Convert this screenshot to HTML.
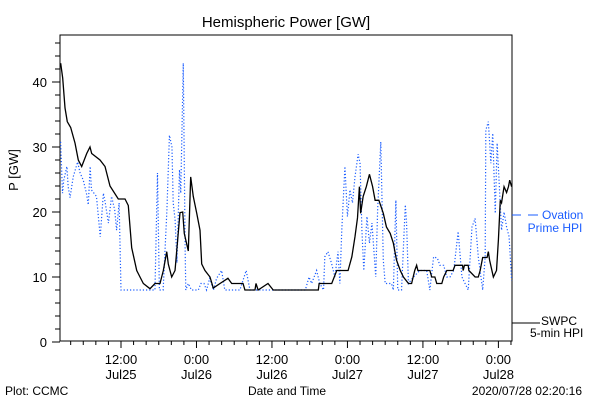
<!DOCTYPE html>
<html><head><meta charset="utf-8"><style>
body{margin:0;background:#fff}
svg{display:block;font-family:"Liberation Sans",sans-serif}
</style></head><body>
<svg id="c" width="600" height="400">
<text x="286" y="27" font-size="15" text-anchor="middle">Hemispheric Power [GW]</text>
<text transform="translate(18,170) rotate(-90)" font-size="13" text-anchor="middle">P [GW]</text>
<text x="5" y="395" font-size="12">Plot: CCMC</text>
<text x="287" y="395" font-size="12" text-anchor="middle">Date and Time</text>
<text x="582" y="395" font-size="12" text-anchor="end">2020/07/28 02:20:16</text>
<g id="axes"></g><g id="series"></g>
<line x1="512" y1="215" x2="521" y2="215" stroke="#1a5cff"/>
<line x1="528" y1="215" x2="538" y2="215" stroke="#1a5cff"/>
<text x="542" y="219" font-size="12" fill="#1a5cff">Ovation</text>
<text x="555" y="232" font-size="12" fill="#1a5cff" text-anchor="middle">Prime HPI</text>
<line x1="512" y1="323" x2="540" y2="323" stroke="#000"/>
<text x="541" y="325" font-size="12">SWPC</text>
<text x="530" y="337" font-size="12">5-min HPI</text>
</svg>
<script>
// time in hours from Jul25 00:00
const swpcT=[2.41,2.73,3.10,3.46,4.0,4.69,5.21,5.75,6.55,7.07,7.34,8.66,9.46,10.25,11.57,12.64,13.16,13.70,14.5,15.02,15.55,16.61,17.4,18.2,18.73,19.27,19.52,20.06,20.59,21.38,21.81,22.06,22.7,23.08,23.49,24.04,24.56,24.83,25.35,26.15,26.67,27.74,29.0,29.6,31.4,31.7,33.3,33.46,33.8,35.37,36.2,43.37,43.5,45.5,46.3,48.1,48.7,49.2,49.6,49.9,50.1,50.5,51.0,51.5,52.0,52.4,53.0,53.7,54.2,54.8,55.3,55.8,56.4,56.9,57.7,58.2,58.7,59.0,59.2,61.1,61.4,61.9,62.2,63.0,63.3,63.8,64.8,65.1,66.3,66.4,66.6,67.2,67.3,68.3,68.8,69.1,69.5,70.2,70.4,70.6,71.2,71.7,72.0,72.3,72.5,72.9,73.3,73.6,73.8,74.1];
const swpcP=[42.9,40.6,36,33.9,33,30.6,28,27,29,30,29,28,27,24,22,22,21,14.5,11,10,9,8.2,9,9,11,13.9,12,10,11,19.9,20,16.7,14,25.4,22.4,19.8,17.2,12,11,10,8.3,9,9.8,9,9,8,8,9,8,9,8,8,9,9,11,11,13.1,16.2,19.1,23.9,19.8,22.4,23.9,25.8,23.9,21.8,21.8,19.8,17.7,16.7,15.2,12.6,11,10,9,9,11,11.8,11,11,10,10,9,9,10,11,11,11.8,11.8,11,11.8,11.8,11,10,10,11,13,13,13.9,12.6,10,11,15.7,21.8,21.4,23.9,23,23.9,24.9,23.9];
const ovT=[2.4,2.7,2.9,3.4,3.6,3.9,4.4,5.1,5.5,6.0,6.5,6.8,7.1,7.3,8.1,8.7,9.2,9.5,10.0,10.5,11.0,11.3,11.7,12.0,17.4,17.8,18.1,18.7,19.3,19.7,20.1,20.3,20.6,20.9,21.3,21.5,21.9,22.2,22.3,22.7,23.2,24.3,24.7,25.2,25.6,26.1,26.7,27.2,28.0,28.5,30.9,31.9,32.5,41.3,41.9,42.3,43.1,43.6,44.2,44.4,44.9,45.5,46.0,46.5,46.8,47.1,47.6,48.0,48.4,48.8,49.2,49.7,50.0,50.3,50.6,51.1,51.5,51.9,52.5,52.8,53.3,53.7,54.0,55.0,55.3,55.7,56.0,56.6,57.2,57.4,57.7,58.5,59.5,60.6,61.1,61.7,62.3,62.7,63.3,63.8,64.3,64.9,65.6,66.2,66.7,67.2,67.8,68.3,68.8,69.5,69.9,70.0,70.4,70.8,71.1,71.5,71.8,72.1,72.5,72.9,73.3,73.7,74.1];
const ovP=[30.8,22.9,24.9,27,23.9,22.2,25.4,27.7,26,24.9,22.9,21.1,27,23.4,22.4,16.2,22.9,21.4,18.3,22.4,20.3,17.2,21.4,8,8,26,8,8,20.3,31.8,30,21.4,18.8,12.2,26.5,22.9,42.9,14.2,8,9,8,8,9,9,8,9.8,8,9.8,11,8,8,11,8,8,10,9,11,9,8,13.1,13.9,12,10,13.9,9,17.2,27,19.3,23.4,21.4,25.4,28.9,27.5,17.2,11,19.3,15.2,18.3,10,20.3,30.8,12.6,9,9,8,21.8,8,8,21.1,18.3,9,10,11,11,8,13.1,12.9,11.8,11.8,10,10,11,17,10,9,8,17.7,19,13.1,8,13.1,32.6,33.9,27.5,32.1,19.8,30.6,24.9,17.2,20,17.7,16.2,9.5];
const majorT=[12,24,36,48,60,72];
const majorTop=["12:00","0:00","12:00","0:00","12:00","0:00"];
const majorBot=["Jul25","Jul26","Jul26","Jul27","Jul27","Jul28"];
const yTicks=[0,10,20,30,40];

const L=60,R=512,T=35,B=341;
const xs=t=>121+(t-12)*6.29;
const ys=v=>342-6.5*v;
const NS="http://www.w3.org/2000/svg";
function mk(tag,attrs,parent){const e=document.createElementNS(NS,tag);for(const k in attrs)e.setAttribute(k,attrs[k]);parent.appendChild(e);return e;}
const ax=document.getElementById('axes'),sg=document.getElementById('series');
const frame=mk('rect',{x:L,y:T,width:R-L,height:B-T,fill:'none',stroke:'#000'},ax);


for(let v=0;v<=46;v+=2){
  const tk=mk('line',{x1:L-(v%10==0?8:5),x2:L,y1:ys(v),y2:ys(v),stroke:'#000'},ax);
  
  
}
yTicks.forEach(v=>{
  const t=mk('text',{x:L-13,y:ys(v)+5,'font-size':13,'text-anchor':'end'},ax);t.textContent=v;
  
  
});
for(let h=4;h<=74;h+=2){
  const x=xs(h);if(x<L||x>R)continue;
  const tk=mk('line',{x1:x,x2:x,y1:B,y2:B+(h%12==0?7:4),stroke:'#000'},ax);
  
  
}
majorT.forEach((h,i)=>{
  const a=mk('text',{x:xs(h),y:364,'font-size':13,'text-anchor':'middle'},ax);a.textContent=majorTop[i];
  
  
  const b=mk('text',{x:xs(h),y:379,'font-size':13,'text-anchor':'middle'},ax);b.textContent=majorBot[i];
  
  
});
function linePath(T,P){let d='M'+xs(T[0])+','+ys(P[0]);for(let i=1;i<T.length;i++){d+='L'+xs(T[i])+','+ys(P[i]);}return d;}
const ov=mk('path',{d:linePath(ovT,ovP),fill:'none',stroke:'#1a5cff','stroke-width':1.2,'stroke-dasharray':'1.2,2'},sg);


const sw=mk('path',{d:linePath(swpcT,swpcP),fill:'none',stroke:'#000','stroke-width':1.3},sg);


</script>
</body></html>
